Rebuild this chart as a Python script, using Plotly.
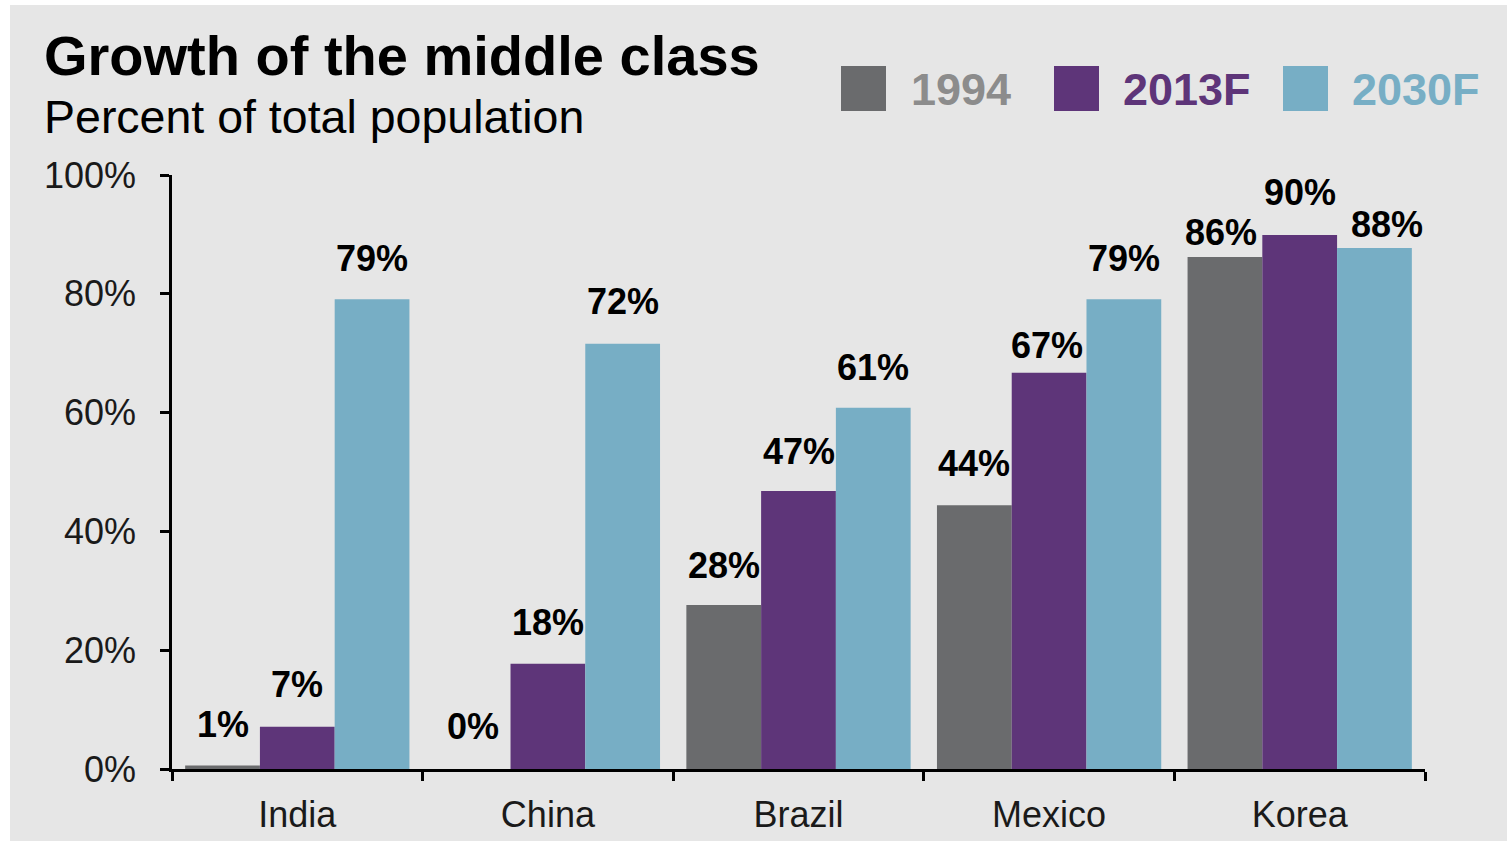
import plotly.graph_objects as go

countries = ["India", "China", "Brazil", "Mexico", "Korea"]
series_names = ["1994", "2013F", "2030F"]
v1994 = [0.6, 0.0, 27.6, 44.4, 86.2]
v2013 = [7.1, 17.7, 46.8, 66.7, 89.9]
v2030 = [79.1, 71.6, 60.8, 79.1, 87.7]
y_ticks = [0, 20, 40, 60, 80, 100]

bar_colors = ["#6a6b6d", "#5e3579", "#77aec5"]
legend_text_colors = ["#8c8c8c", "#5e3579", "#77aec5"]
BG = "#e6e6e6"
FONT = "Liberation Sans, Arial, sans-serif"

W, H = 1507, 841
L, R, T, B = 172, 82, 175, 72
PW, PH = W - L - R, H - T - B


def px(xp):
    return (xp - L) / PW


def py(yp):
    return (H - B - yp) / PH


BARGAP = 0.105
bw = (1 - BARGAP) / 3
offsets = [-bw, 0, bw]

label_dy = [[41, 43, 40, 42, 24], [42, 41, 40, 27, 42], [41, 42, 40, 41, 24]]
label_dx = [[0, 0, 0, 0, -4], [0, 0, 0, -2, 0], [0, 0, 0, 0, 13]]

fig = go.Figure()
all_vals = [v1994, v2013, v2030]
for j, (name, vals) in enumerate(zip(series_names, all_vals)):
    fig.add_trace(go.Bar(
        x=countries, y=vals, name=name,
        marker=dict(color=bar_colors[j], line=dict(width=0)),
        showlegend=False,
    ))

annotations = []
for j, vals in enumerate(all_vals):
    for i, v in enumerate(vals):
        annotations.append(dict(
            x=i + offsets[j], y=v, xref="x", yref="y",
            text=f"{round(v)}%", showarrow=False,
            xanchor="center", yanchor="middle",
            xshift=label_dx[j][i], yshift=label_dy[j][i],
            font=dict(family=FONT, size=36, color="#000000", weight="bold"),
        ))

annotations.append(dict(
    x=px(42), y=py(55), xref="paper", yref="paper", text="<b>Growth of the middle class</b>",
    showarrow=False, xanchor="left", yanchor="middle",
    font=dict(family=FONT, size=56, color="#000000"),
))
annotations.append(dict(
    x=px(42), y=py(117), xref="paper", yref="paper", text="Percent of total population",
    showarrow=False, xanchor="left", yanchor="middle",
    font=dict(family=FONT, size=46.5, color="#000000"),
))

shapes = [dict(type="rect", xref="paper", yref="paper", x0=px(10), x1=px(W + 5), y0=py(H + 5), y1=py(5),
               fillcolor=BG, line=dict(width=0), layer="below")]
leg_sq_x = [841, 1054, 1283]
leg_txt_x = [909, 1121, 1350]
for j, name in enumerate(series_names):
    shapes.append(dict(type="rect", xref="paper", yref="paper",
                       x0=px(leg_sq_x[j]), x1=px(leg_sq_x[j] + 45), y0=py(111), y1=py(66),
                       fillcolor=bar_colors[j], line=dict(width=0)))
    annotations.append(dict(
        x=px(leg_txt_x[j]), y=py(89), xref="paper", yref="paper", text=f"<b>{name}</b>",
        showarrow=False, xanchor="left", yanchor="middle",
        font=dict(family=FONT, size=45, color=legend_text_colors[j]),
    ))

fig.update_layout(
    width=W, height=H,
    margin=dict(l=L, r=R, t=T, b=B, pad=0, autoexpand=False),
    paper_bgcolor="white", plot_bgcolor="rgba(0,0,0,0)",
    barmode="group", bargap=BARGAP, bargroupgap=0,
    annotations=annotations, shapes=shapes,
    font=dict(family=FONT, color="#000000"),
)
fig.update_xaxes(
    type="category", range=[-0.5, 4.5], automargin=False,
    showline=True, linecolor="#000000", linewidth=2.5,
    ticks="outside", tickson="boundaries", ticklen=9, tickwidth=2.5, tickcolor="#000000",
    tickfont=dict(family=FONT, size=36, color="#1a1a1a"),
    showgrid=False, zeroline=False, ticklabelstandoff=12,
)
fig.update_yaxes(
    range=[0, 100], tickvals=y_ticks, ticktext=[f"{t}%" for t in y_ticks], automargin=False,
    showline=True, linecolor="#000000", linewidth=2.5,
    ticks="outside", ticklen=9, tickwidth=2.5, tickcolor="#000000",
    tickfont=dict(family=FONT, size=36, color="#1a1a1a"),
    showgrid=False, zeroline=False, ticklabelstandoff=17,
)
post = (
    "var h=document.documentElement,b=document.body;"
    "h.style.margin='0';h.style.padding='0';h.style.overflow='hidden';"
    "b.style.margin='0';b.style.padding='0';b.style.overflow='hidden';"
)
fig.write_html("out.html", post_script=post, config={"displayModeBar": False})
